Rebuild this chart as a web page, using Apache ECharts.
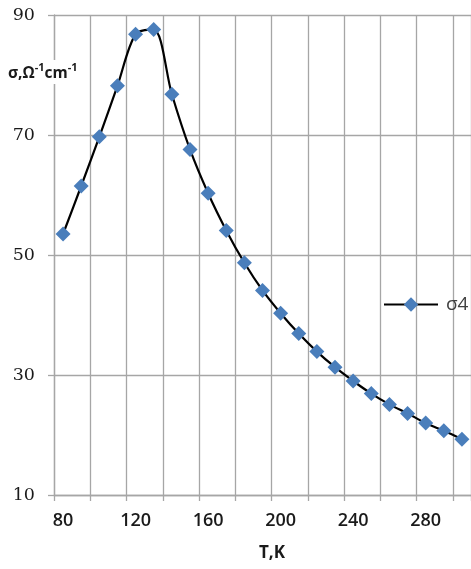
<!DOCTYPE html>
<html>
<head>
<meta charset="utf-8">
<script src="https://cdn.jsdelivr.net/npm/echarts@6/dist/echarts.min.js"></script>
<style>
  html, body { margin: 0; padding: 0; background: #fff; }
  #chart { width: 471px; height: 569px; }
</style>
</head>
<body>
<div id="chart"></div>
<script>
// Temperature categories, K
const temperatures = ['80','90','100','110','120','130','140','150','160','170','180','190',
  '200','210','220','230','240','250','260','270','280','290','300'];
// Conductivity sigma4, Ohm^-1 cm^-1
const sigma4 = [53.5, 61.5, 69.7, 78.2, 86.8, 87.6, 76.8, 67.6, 60.3, 54.1, 48.7, 44.1,
  40.3, 36.9, 33.9, 31.3, 29.0, 26.9, 25.1, 23.6, 22.0, 20.7, 19.3];
// Value axis ticks
const yTicks = [10, 30, 50, 70, 90];

const gridColor = '#a6a6a6';
const chart = echarts.init(document.getElementById('chart'), null, { renderer: 'canvas' });

chart.setOption({
  animation: false,
  backgroundColor: '#fff',
  title: [
    {
      text: '{b|σ,Ω}{s|-1}{b|cm}{s|-1}',
      left: 7, top: 60,
      backgroundColor: '#fff',
      padding: [2, 1, 2, 1],
      textStyle: {
        rich: {
          b: { fontFamily: 'Open Sans', fontWeight: 'bold', fontSize: 15.5, color: '#1a1a1a', verticalAlign: 'bottom', lineHeight: 20 },
          s: { fontFamily: 'Open Sans', fontWeight: 'bold', fontSize: 11, color: '#1a1a1a', verticalAlign: 'top', lineHeight: 20, padding: [0, 0, 6, 0] }
        }
      }
    },
    {
      text: 'T,K',
      left: 259, top: 545,
      padding: 0,
      textStyle: { fontFamily: 'Open Sans', fontWeight: 'bold', fontSize: 17, color: '#1a1a1a' }
    }
  ],
  legend: {
    data: ['σ4'],
    left: 378, top: 290,
    itemWidth: 54, itemHeight: 18,
    textStyle: { fontFamily: 'Open Sans', fontSize: 19, color: '#404040', padding: [0, 0, 0, 3] }
  },
  grid: { left: 54, top: 15, width: 419, height: 480, containLabel: false },
  xAxis: {
    type: 'category',
    data: temperatures,
    boundaryGap: true,
    axisLine: { show: true, lineStyle: { color: gridColor, width: 1.3 } },
    axisTick: { show: true, interval: 1, length: 6, lineStyle: { color: gridColor, width: 1.3 } },
    splitLine: { show: true, interval: 1, lineStyle: { color: gridColor, width: 1.3 } },
    axisLabel: {
      interval: 3, margin: 17,
      fontFamily: 'Open Sans', fontWeight: 600, fontSize: 18, color: '#1a1a1a'
    }
  },
  yAxis: {
    type: 'value',
    min: yTicks[0], max: yTicks[yTicks.length - 1], interval: 20,
    axisLine: { show: true, lineStyle: { color: gridColor, width: 1.3 } },
    axisTick: { show: true, length: 6, lineStyle: { color: gridColor, width: 1.3 } },
    splitLine: { show: true, lineStyle: { color: gridColor, width: 1.3 } },
    axisLabel: {
      margin: 19,
      fontFamily: 'DejaVu Serif', fontSize: 17.5, color: '#1a1a1a'
    }
  },
  series: [{
    name: 'σ4',
    type: 'line',
    data: sigma4,
    smooth: 0.3,
    showAllSymbol: true,
    symbol: 'diamond',
    symbolSize: 15,
    itemStyle: { color: '#4a7ebb', borderColor: '#4a7ebb', borderWidth: 0 },
    lineStyle: { color: '#000', width: 2.2 },
    z: 3
  }]
});
</script>
</body>
</html>
